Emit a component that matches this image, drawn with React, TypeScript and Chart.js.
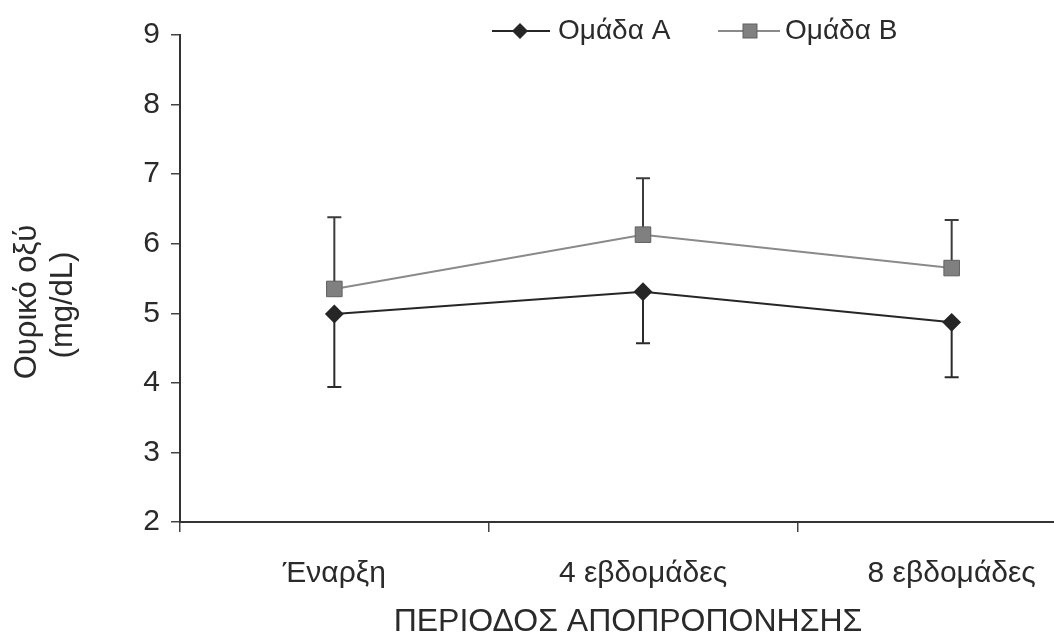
import { useEffect, useRef } from "react";
import { Chart, registerables } from "chart.js";

Chart.register(...registerables);

const categories = ["Έναρξη", "4 εβδομάδες", "8 εβδομάδες"];
const seriesNames = ["Ομάδα A", "Ομάδα B"];
const groupA = [4.99, 5.31, 4.87];
const groupALower = [3.94, 4.57, 4.08];
const groupB = [5.35, 6.13, 5.65];
const groupBUpper = [6.38, 6.94, 6.34];
const yTicks = [2, 3, 4, 5, 6, 7, 8, 9];
const yTitleLines = ["Ουρικό οξύ", "(mg/dL)"];
const xTitle = "ΠΕΡΙΟΔΟΣ ΑΠΟΠΡΟΠΟΝΗΣΗΣ";

const FONT = "'Liberation Sans', Arial, sans-serif";
const COLOR_A = "#262626";
const COLOR_B = "#8a8a8a";
const TEXT = "#2a2a2a";

const errorBarsPlugin = {
  id: "errorBars",
  beforeDatasetsDraw(chart: any) {
    const { ctx, scales } = chart;
    const x = scales.x;
    const y = scales.y;
    const cap = 7;
    ctx.save();
    ctx.lineWidth = 2;
    const drawBar = (i: number, from: number, to: number, color: string) => {
      const px = x.getPixelForValue(i);
      const p1 = y.getPixelForValue(from);
      const p2 = y.getPixelForValue(to);
      ctx.strokeStyle = color;
      ctx.beginPath();
      ctx.moveTo(px, p1);
      ctx.lineTo(px, p2);
      ctx.moveTo(px - cap, p2);
      ctx.lineTo(px + cap, p2);
      ctx.stroke();
    };
    categories.forEach((_, i) => {
      drawBar(i, groupA[i], groupALower[i], "#2b2b2b");
      drawBar(i, groupB[i], groupBUpper[i], "#3c3c3c");
    });
    ctx.restore();
  },
};

const textPlugin = {
  id: "customText",
  afterDraw(chart: any) {
    const { ctx } = chart;
    ctx.save();
    ctx.fillStyle = TEXT;
    ctx.textBaseline = "middle";
    // y title
    ctx.font = `31px ${FONT}`;
    ctx.save();
    ctx.translate(27, 302);
    ctx.rotate(-Math.PI / 2);
    ctx.textAlign = "center";
    ctx.fillText(yTitleLines[0], 0, 0);
    ctx.restore();
    ctx.save();
    ctx.translate(63, 305);
    ctx.rotate(-Math.PI / 2);
    ctx.textAlign = "center";
    ctx.fillText(yTitleLines[1], 0, 0);
    ctx.restore();
    // x title
    ctx.font = `32px ${FONT}`;
    ctx.textAlign = "center";
    ctx.fillText(xTitle, 628, 622);
    // legend
    ctx.font = `28px ${FONT}`;
    const ly = 31;
    ctx.textAlign = "left";
    ctx.lineWidth = 2;
    ctx.strokeStyle = COLOR_A;
    ctx.beginPath();
    ctx.moveTo(492, ly);
    ctx.lineTo(550, ly);
    ctx.stroke();
    ctx.fillStyle = COLOR_A;
    ctx.beginPath();
    ctx.moveTo(520, ly - 8);
    ctx.lineTo(528, ly);
    ctx.lineTo(520, ly + 8);
    ctx.lineTo(512, ly);
    ctx.closePath();
    ctx.fill();
    ctx.fillStyle = TEXT;
    ctx.fillText(seriesNames[0], 558, ly);

    ctx.strokeStyle = COLOR_B;
    ctx.beginPath();
    ctx.moveTo(718, ly);
    ctx.lineTo(780, ly);
    ctx.stroke();
    ctx.fillStyle = "#808080";
    ctx.strokeStyle = "#606060";
    ctx.lineWidth = 1;
    ctx.fillRect(743, ly - 7, 14, 14);
    ctx.strokeRect(743, ly - 7, 14, 14);
    ctx.fillStyle = TEXT;
    ctx.fillText(seriesNames[1], 785, ly);
    ctx.restore();
  },
};

export default function App() {
  const ref = useRef<HTMLCanvasElement | null>(null);

  useEffect(() => {
    if (!ref.current) return;
    const chart = new Chart(ref.current, {
      type: "line",
      data: {
        labels: categories,
        datasets: [
          {
            label: seriesNames[0],
            data: groupA,
            borderColor: COLOR_A,
            backgroundColor: COLOR_A,
            borderWidth: 2,
            pointStyle: "rectRot",
            pointRadius: 8,
            pointBorderColor: COLOR_A,
            pointBackgroundColor: COLOR_A,
            tension: 0,
          },
          {
            label: seriesNames[1],
            data: groupB,
            borderColor: COLOR_B,
            backgroundColor: "#808080",
            borderWidth: 2,
            pointStyle: "rect",
            pointRadius: 11,
            pointBorderColor: "#606060",
            pointBorderWidth: 1,
            pointBackgroundColor: "#808080",
            tension: 0,
          },
        ],
      },
      options: {
        responsive: false,
        animation: false,
        layout: { padding: { top: 35, left: 0, right: 2, bottom: 0 } },
        plugins: {
          legend: { display: false },
          tooltip: { enabled: false },
        },
        scales: {
          x: {
            type: "category",
            offset: true,
            afterFit: (s: any) => {
              s.height = 115;
            },
            grid: {
              display: true,
              offset: true,
              drawOnChartArea: false,
              drawTicks: true,
              tickLength: 10,
              color: "#444",
              lineWidth: 1.5,
            },
            border: { display: true, color: "#333", width: 2 },
            ticks: {
              color: TEXT,
              font: { family: FONT, size: 30 },
              padding: 24,
              maxRotation: 0,
              autoSkip: false,
            },
          },
          y: {
            min: 2,
            max: 9,
            afterFit: (s: any) => {
              s.width = 180;
            },
            afterBuildTicks: (s: any) => {
              s.ticks = yTicks.map((v) => ({ value: v }));
            },
            grid: {
              display: true,
              drawOnChartArea: false,
              drawTicks: true,
              tickLength: 9,
              color: "#444",
              lineWidth: 1.5,
            },
            border: { display: true, color: "#333", width: 2 },
            ticks: {
              color: TEXT,
              font: { family: FONT, size: 30 },
              padding: 11,
            },
          },
        },
      },
      plugins: [errorBarsPlugin, textPlugin],
    });
    return () => chart.destroy();
  }, []);

  return (
    <div
      style={{
        position: "fixed",
        left: 0,
        top: 0,
        width: 1054,
        height: 637,
        overflow: "hidden",
        background: "#fff",
      }}
    >
      <canvas ref={ref} width={1118} height={637} style={{ display: "block" }} />
    </div>
  );
}
